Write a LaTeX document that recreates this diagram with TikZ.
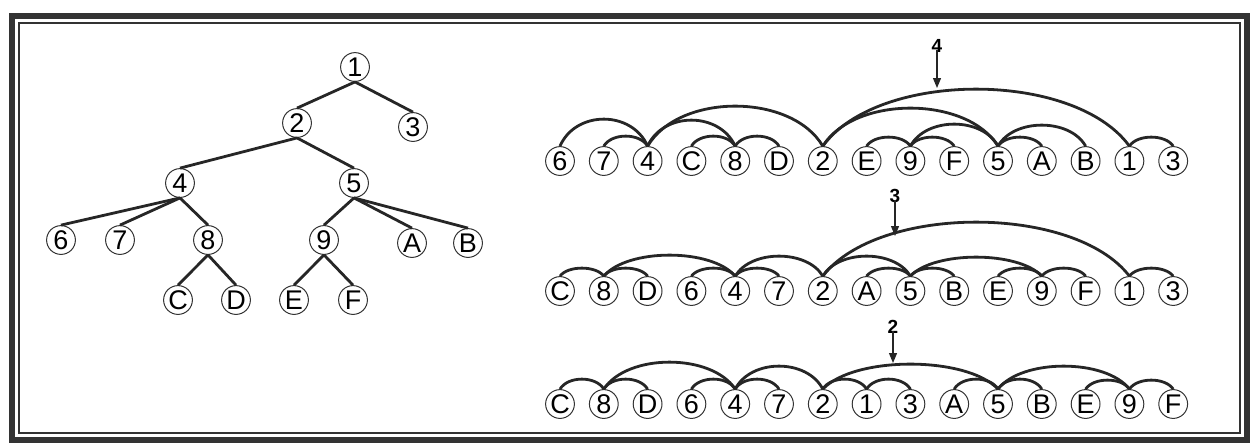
\documentclass[tikz,border=0pt]{standalone}
\usepackage{fontspec}
\setmainfont{Liberation Sans}
\usetikzlibrary{calc,arrows.meta}
\newcommand\myarc[3]{\draw[arcline] (#1.north) .. controls ($(#1.north)!0.18!(#2.north)+(0,-1.333*#3)$) and ($(#2.north)!0.18!(#1.north)+(0,-1.333*#3)$) .. (#2.north);}
\begin{document}
\begin{tikzpicture}[x=0.5pt,y=-0.5pt,
  vtx/.style={circle,draw=black!80,line width=0.5pt,minimum size=14.4pt,inner sep=0pt,font=\fontsize{13.5}{13.5}\selectfont},
  edge/.style={line width=1.4pt,draw=black!85},
  arcline/.style={line width=1.4pt,draw=black!85},
  lbl/.style={font=\bfseries\fontsize{9.5}{9.5}\selectfont,inner sep=0pt},
  pointer/.style={line width=0.6pt,draw=black!85,-{Triangle[length=5pt,width=4pt]}},
  outerframe/.style={line width=3.3pt,draw=black!80},
  innerframe/.style={line width=0.9pt,draw=black!80}]
\useasboundingbox (0,0) rectangle (1254,447);
% frame
\draw[outerframe] (12,16) rectangle (1247,440);
\draw[innerframe] (19,23) rectangle (1240,433);
% tree
\node[vtx] (t1) at (355,67) {1};
\node[vtx] (t2) at (297,123) {2};
\node[vtx] (t3) at (413,127) {3};
\node[vtx] (t4) at (180,183) {4};
\node[vtx] (t5) at (354,183) {5};
\node[vtx] (t6) at (61,240) {6};
\node[vtx] (t7) at (120,240) {7};
\node[vtx] (t8) at (208,240) {8};
\node[vtx] (t9) at (324,240) {9};
\node[vtx] (tA) at (412,243) {A};
\node[vtx] (tB) at (468,243) {B};
\node[vtx] (tC) at (178,300) {C};
\node[vtx] (tD) at (236,300) {D};
\node[vtx] (tE) at (294,300) {E};
\node[vtx] (tF) at (353,300) {F};
\foreach \p/\c in {1/2,1/3,2/4,2/5,4/6,4/7,4/8,5/9,5/A,5/B,8/C,8/D,9/E,9/F}
  \draw[edge] (t\p.south) -- (t\c.north);
% rows
\foreach \n [count=\i from 0] in {6,7,4,C,8,D,2,E,9,F,5,A,B,1,3}
  \node[vtx] (a\n) at ({560+43.8*\i},161) {\n};
\foreach \n [count=\i from 0] in {C,8,D,6,4,7,2,A,5,B,E,9,F,1,3}
  \node[vtx] (b\n) at ({560+43.8*\i},291) {\n};
\foreach \n [count=\i from 0] in {C,8,D,6,4,7,2,1,3,A,5,B,E,9,F}
  \node[vtx] (c\n) at ({560+43.8*\i},404) {\n};
% row 1 arcs
\myarc{a6}{a4}{27}
\myarc{a7}{a4}{10}
\myarc{a4}{a8}{26}
\myarc{aC}{a8}{10}
\myarc{a8}{aD}{10}
\myarc{a4}{a2}{40}
\myarc{a2}{a1}{57}
\myarc{a2}{a5}{38}
\myarc{aE}{a9}{9}
\myarc{a9}{aF}{9}
\myarc{a9}{a5}{22}
\myarc{a5}{aA}{9}
\myarc{a5}{aB}{21}
\myarc{a1}{a3}{9}
% row 2 arcs
\myarc{bC}{b8}{8}
\myarc{b8}{bD}{8}
\myarc{b8}{b4}{21}
\myarc{b6}{b4}{8}
\myarc{b4}{b7}{8}
\myarc{b4}{b2}{20}
\myarc{b2}{b1}{54}
\myarc{b2}{b5}{20}
\myarc{bA}{b5}{8}
\myarc{b5}{bB}{8}
\myarc{b5}{b9}{19}
\myarc{bE}{b9}{8}
\myarc{b9}{bF}{8}
\myarc{b1}{b3}{8}
% row 3 arcs
\myarc{cC}{c8}{10}
\myarc{c8}{cD}{10}
\myarc{c8}{c4}{27}
\myarc{c6}{c4}{10}
\myarc{c4}{c7}{10}
\myarc{c4}{c2}{23}
\myarc{c2}{c1}{10}
\myarc{c1}{c3}{10}
\myarc{c2}{c5}{25}
\myarc{cA}{c5}{10}
\myarc{c5}{cB}{10}
\myarc{c5}{c9}{23}
\myarc{cE}{c9}{9}
\myarc{c9}{cF}{9}
% labels and pointers
\node[lbl] (l4) at (937,46) {4};
\node[lbl] (l3) at (895,196) {3};
\node[lbl] (l2) at (893,327) {2};
\coordinate (p4) at (937,88);
\coordinate (p3) at (895,236);
\coordinate (p2) at (893,363);
\draw[pointer] (l4.south) ++(0,-3) -- (p4);
\draw[pointer] (l3.south) ++(0,-3) -- (p3);
\draw[pointer] (l2.south) ++(0,-3) -- (p2);
\end{tikzpicture}
\end{document}
